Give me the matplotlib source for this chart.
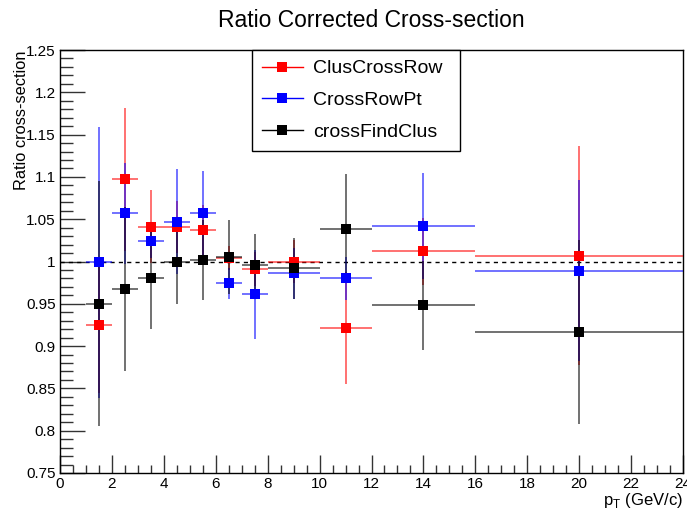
import matplotlib
matplotlib.use("Agg")
import matplotlib.pyplot as plt
from matplotlib.ticker import MultipleLocator
from matplotlib.lines import Line2D

plt.rcParams['font.family'] = ['Liberation Sans', 'DejaVu Sans']

# pT bins (centres and half-widths, GeV/c)
pt_centers = [1.5, 2.5, 3.5, 4.5, 5.5, 6.5, 7.5, 9, 11, 14, 20]
pt_halfwidths = [0.5, 0.5, 0.5, 0.5, 0.5, 0.5, 0.5, 1, 1, 2, 4]

clus_cross_row = [0.925, 1.097, 1.041, 1.041, 1.037, 1.004, 0.991, 1.000, 0.921, 1.012, 1.007]
clus_cross_row_err = [0.080, 0.085, 0.043, 0.031, 0.030, 0.014, 0.020, 0.025, 0.066, 0.040, 0.129]

cross_row_pt = [0.999, 1.057, 1.024, 1.047, 1.057, 0.974, 0.961, 0.986, 0.980, 1.042, 0.989]
cross_row_pt_err = [0.160, 0.060, 0.020, 0.062, 0.050, 0.018, 0.053, 0.030, 0.025, 0.063, 0.107]

cross_find_clus = [0.950, 0.967, 0.981, 0.999, 1.002, 1.005, 0.996, 0.992, 1.039, 0.948, 0.917]
cross_find_clus_err = [0.145, 0.097, 0.061, 0.049, 0.047, 0.044, 0.037, 0.036, 0.065, 0.053, 0.109]

series = [
    ("ClusCrossRow", clus_cross_row, clus_cross_row_err, "#ff0000"),
    ("CrossRowPt", cross_row_pt, cross_row_pt_err, "#0000ff"),
    ("crossFindClus", cross_find_clus, cross_find_clus_err, "#000000"),
]

fig = plt.figure(figsize=(6.87, 5.14), dpi=100)
ax = fig.add_axes([60 / 687, 1 - 473 / 514, 623 / 687, 423 / 514])

for name, vals, errs, col in series:
    marker_line, caps, bars = ax.errorbar(
        pt_centers, vals, yerr=errs, xerr=pt_halfwidths, fmt="s",
        color=col, ecolor=col, elinewidth=1.2, capsize=0,
        markersize=6.5, markeredgewidth=0, zorder=3)
    for b in bars:
        b.set_alpha(0.65)

ax.axhline(1.0, color="black", lw=1.0, ls=(0, (3, 3)), zorder=2)

ax.set_xlim(0, 24)
ax.set_ylim(0.75, 1.25)

ax.xaxis.set_major_locator(MultipleLocator(2))
ax.xaxis.set_minor_locator(MultipleLocator(0.5))
ax.yaxis.set_major_locator(MultipleLocator(0.05))
ax.yaxis.set_minor_locator(MultipleLocator(0.01))

ax.tick_params(axis="both", which="both", direction="in", top=False, right=False,
               labelsize=11, width=1.0, color="#333333")
ax.tick_params(axis="y", which="major", length=18, pad=3)
ax.tick_params(axis="y", which="minor", length=9)
ax.tick_params(axis="x", which="major", length=13, pad=3)
ax.tick_params(axis="x", which="minor", length=6)

ax.set_yticks([0.75, 0.8, 0.85, 0.9, 0.95, 1.0, 1.05, 1.1, 1.15, 1.2, 1.25])
ax.set_yticklabels(["0.75", "0.8", "0.85", "0.9", "0.95", "1", "1.05", "1.1", "1.15", "1.2", "1.25"])

for sp in ax.spines.values():
    sp.set_linewidth(1.0)

ax.set_title("Ratio Corrected Cross-section", fontsize=16.5, pad=16.5)
ax.set_ylabel("Ratio cross-section", fontsize=11.8, loc="top", labelpad=-2)
ax.set_xlabel(r"p$_{\mathregular{T}}$ (GeV/c)", fontsize=12, loc="right", labelpad=0)

handles = [Line2D([0], [0], color=col, marker="s", markersize=7, markeredgewidth=0, lw=1)
           for _, _, _, col in series]
leg = ax.legend(handles, [s[0] for s in series], loc="upper left",
                bbox_to_anchor=((252 - 60) / 623, 0.0, 208 / 623, 1.0), mode="expand",
                borderaxespad=0, fontsize=14,
                frameon=True, fancybox=False, edgecolor="black", framealpha=1,
                handlelength=2.1, borderpad=0.5, labelspacing=0.73, handletextpad=0.55)
leg.get_frame().set_linewidth(1.0)

fig.savefig("out.png", dpi=100)
